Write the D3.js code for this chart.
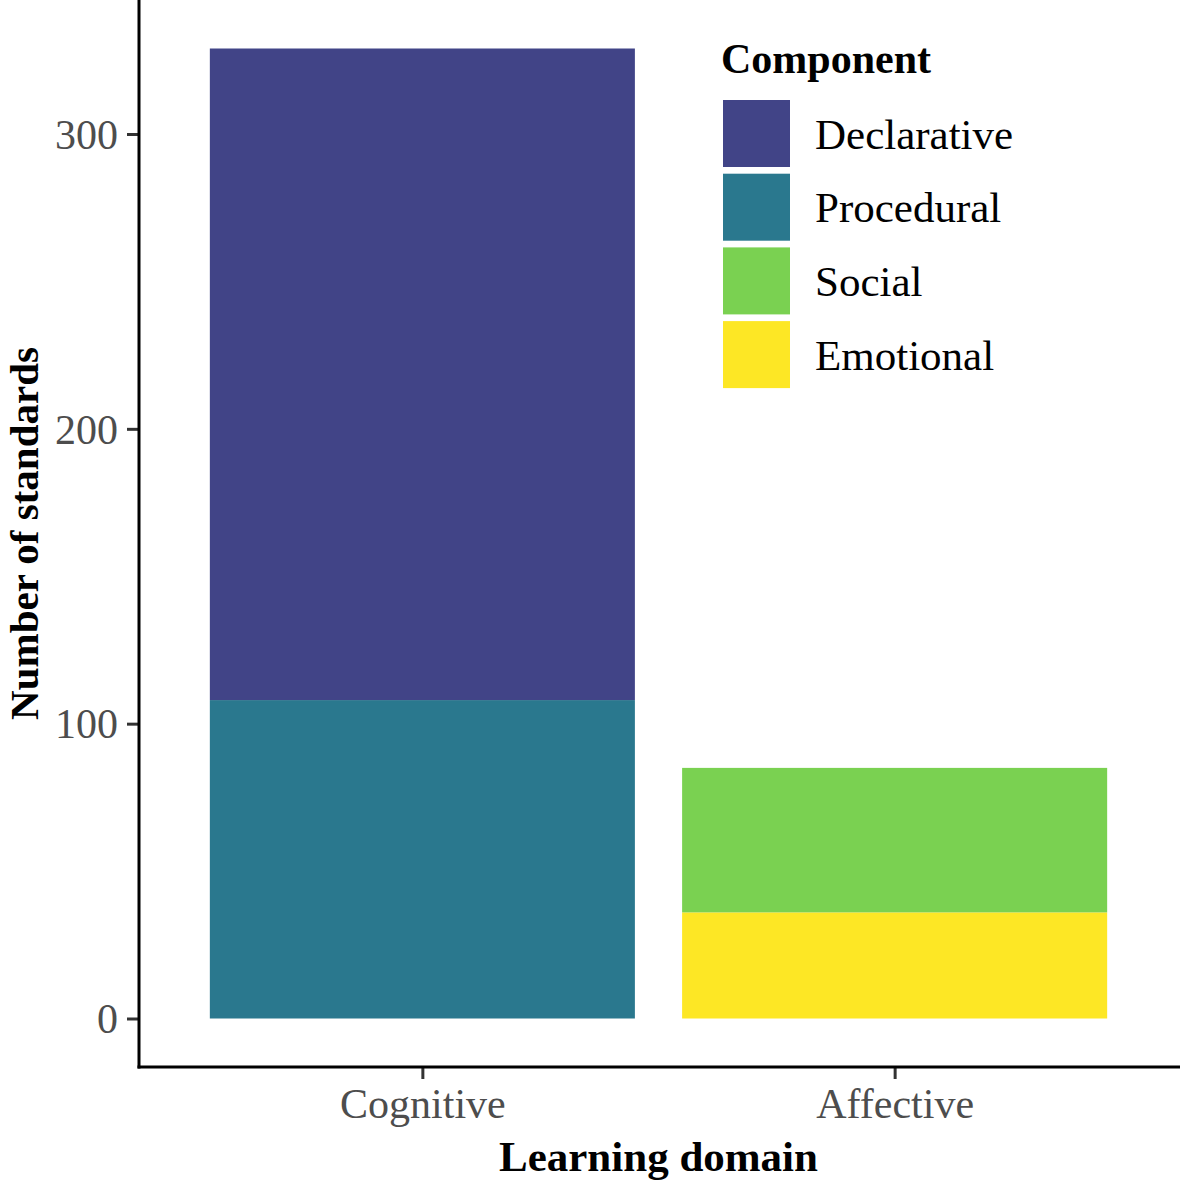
<!DOCTYPE html>
<html><head><meta charset="utf-8">
<script src="https://cdn.jsdelivr.net/npm/d3@7"></script>
<style>body{margin:0;background:#fff}svg{display:block}</style>
</head><body>
<script>
const domains = ["Cognitive", "Affective"];
const components = ["Declarative", "Procedural", "Social", "Emotional"];
const colors = ["#414487", "#2A788E", "#7AD151", "#FDE725"];
// values per domain (stack order bottom->top)
const cognitiveValues = {Procedural: 108, Declarative: 221};
const affectiveValues = {Emotional: 36, Social: 49};
const yTicks = [0, 100, 200, 300];

const W = 1180, H = 1182;
const svg = d3.select("body").append("svg").attr("width", W).attr("height", H);
const font = "'Liberation Serif','Times New Roman',serif";

const panel = {left: 139, right: 1178, top: 0, bottom: 1067};
const stackOrder = {Cognitive: ["Procedural", "Declarative"], Affective: ["Emotional", "Social"]};
const valuesBy = {Cognitive: cognitiveValues, Affective: affectiveValues};
const maxTotal = d3.max(domains, d => d3.sum(Object.values(valuesBy[d])));
const pad = maxTotal * 0.05;

const y = d3.scaleLinear().domain([-pad, maxTotal + pad]).range([panel.bottom, panel.top]);
const unit = (panel.right - panel.left) / 2.2;
const xc = d3.scaleOrdinal().domain(domains).range([panel.left + 0.6 * unit, panel.left + 1.6 * unit]);
const bw = 0.9 * unit;
const color = d3.scaleOrdinal().domain(components).range(colors);

// bars
domains.forEach(dm => {
  let acc = 0;
  stackOrder[dm].forEach(c => {
    const v = valuesBy[dm][c];
    svg.append("rect")
      .attr("x", xc(dm) - bw / 2)
      .attr("width", bw)
      .attr("y", y(acc + v))
      .attr("height", y(acc) - y(acc + v))
      .attr("fill", color(c));
    acc += v;
  });
});

// axes
const yAxis = d3.axisLeft(y).tickValues(yTicks).tickSize(12).tickPadding(9);
const gy = svg.append("g").attr("transform", `translate(${panel.left},0)`).call(yAxis);
gy.select(".domain").remove();
gy.selectAll(".tick line").attr("stroke", "#333").attr("stroke-width", 3);
gy.selectAll(".tick text").attr("fill", "#4D4D4D").style("font-family", font).style("font-size", "42px").attr("dy", "0.34em");

const xAxisScale = d3.scalePoint().domain(domains).range([xc("Cognitive"), xc("Affective")]);
const xAxis = d3.axisBottom(xAxisScale).tickSize(12).tickPadding(9);
const gx = svg.append("g").attr("transform", `translate(0,${panel.bottom})`).call(xAxis);
gx.select(".domain").remove();
gx.selectAll(".tick line").attr("stroke", "#333").attr("stroke-width", 3);
gx.selectAll(".tick text").attr("fill", "#4D4D4D").style("font-family", font).style("font-size", "42px").attr("dy", "0.71em");

// axis lines
svg.append("line").attr("x1", panel.left).attr("x2", panel.left).attr("y1", 0).attr("y2", panel.bottom + 1.5)
  .attr("stroke", "#000").attr("stroke-width", 3);
svg.append("line").attr("x1", panel.left - 1.5).attr("x2", W).attr("y1", panel.bottom).attr("y2", panel.bottom)
  .attr("stroke", "#000").attr("stroke-width", 3);

// axis titles
svg.append("text").attr("x", (panel.left + panel.right) / 2).attr("y", 1171)
  .attr("text-anchor", "middle").style("font-family", font).style("font-weight", "bold").style("font-size", "43px")
  .text("Learning domain");
svg.append("text").attr("transform", `translate(38,${(panel.top + panel.bottom) / 2}) rotate(-90)`)
  .attr("text-anchor", "middle").style("font-family", font).style("font-weight", "bold").style("font-size", "41px")
  .text("Number of standards");

// legend
const lg = svg.append("g").attr("transform", "translate(723,0)");
lg.append("text").attr("x", -2).attr("y", 73).style("font-family", font).style("font-weight", "bold").style("font-size", "42px").text("Component");
components.forEach((c, i) => {
  const ky = 100 + i * 73.7;
  lg.append("rect").attr("x", 0).attr("y", ky).attr("width", 67).attr("height", 67).attr("fill", color(c));
  lg.append("text").attr("x", 92).attr("y", ky + 33.5).attr("dy", "0.35em")
    .style("font-family", font).style("font-size", "43px").text(c);
});
</script>
</body></html>
